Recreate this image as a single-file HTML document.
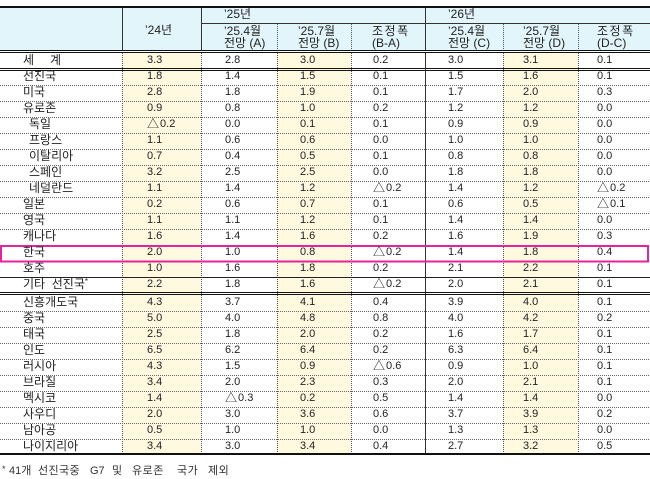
<!DOCTYPE html>
<html><head><meta charset="utf-8">
<style>
html,body{margin:0;padding:0;background:#fff;}
#c{position:relative;width:650px;height:479px;overflow:hidden;background:#fff;font-family:"Liberation Sans","Noto Sans CJK KR",sans-serif;color:#222;}
svg{position:absolute;left:0;top:0;}
.t{position:absolute;height:16px;line-height:16px;white-space:nowrap;font-size:12px;}
.r{position:absolute;left:0;width:650px;height:16px;line-height:16px;}
.r b,.r i{position:absolute;top:0;font-weight:normal;font-style:normal;white-space:nowrap;}
.r b{font-size:12px;left:23px;}
.r b.in{left:29px;}
.r i{font-size:11px;}
.r i:nth-child(2){left:147px}
.r i:nth-child(3){left:225px}
.r i:nth-child(4){left:300px}
.r i:nth-child(5){left:373px}
.r i:nth-child(6){left:448px}
.r i:nth-child(7){left:523px}
.r i:nth-child(8){left:597px}
s{text-decoration:none;font-family:"Noto Sans CJK KR",sans-serif;font-size:12px;margin-right:1px;display:inline-block;vertical-align:top;height:16px;line-height:16px;}
.f{position:absolute;top:463px;height:16px;line-height:16px;font-size:11px;white-space:nowrap;color:#333;}
</style></head><body>
<div id="c">
<svg width="650" height="479" viewBox="0 0 650 479">
  <rect x="0" y="8" width="650" height="42" fill="#e2f5fb"/>
  <rect x="122" y="53" width="79" height="400" fill="#fef9df"/>
  <rect x="277" y="53" width="74" height="400" fill="#fef9df"/>
  <rect x="503" y="53" width="75" height="400" fill="#fef9df"/>
  <rect x="0" y="6" width="650" height="2" fill="#111"/>
  <line x1="201" y1="23.5" x2="650" y2="23.5" stroke="#333" stroke-width="1"/>
  <g stroke="#333" stroke-width="1">
    <line x1="122.5" y1="8" x2="122.5" y2="50"/>
    <line x1="201.5" y1="8" x2="201.5" y2="50"/>
    <line x1="425.5" y1="8" x2="425.5" y2="50"/>
  </g>
  <g stroke="#555" stroke-width="1" stroke-dasharray="1 1">
    <line x1="277.5" y1="24" x2="277.5" y2="50"/>
    <line x1="351.5" y1="24" x2="351.5" y2="50"/>
    <line x1="503.5" y1="24" x2="503.5" y2="50"/>
    <line x1="578.5" y1="24" x2="578.5" y2="50"/>
  </g>
  <rect x="0" y="50" width="650" height="1" fill="#111"/>
  <rect x="0" y="52" width="650" height="1" fill="#111"/>
  <rect x="0" y="68" width="650" height="1" fill="#111"/>
  <rect x="0" y="70" width="650" height="1" fill="#111"/>
  <g stroke="#555" stroke-width="1" stroke-dasharray="1 1">
    <line x1="122.5" y1="53" x2="122.5" y2="453"/>
    <line x1="201.5" y1="53" x2="201.5" y2="453"/>
    <line x1="277.5" y1="53" x2="277.5" y2="453"/>
    <line x1="351.5" y1="53" x2="351.5" y2="453"/>
    <line x1="503.5" y1="53" x2="503.5" y2="453"/>
    <line x1="578.5" y1="53" x2="578.5" y2="453"/>
  </g>
  <line x1="425.5" y1="53" x2="425.5" y2="453" stroke="#333" stroke-width="1"/>
  <g stroke="#666" stroke-width="1" stroke-dasharray="1 1">
    <line x1="0" y1="85.5" x2="650" y2="85.5"/>
    <line x1="0" y1="101.5" x2="650" y2="101.5"/>
    <line x1="0" y1="117.5" x2="650" y2="117.5"/>
    <line x1="0" y1="133.5" x2="650" y2="133.5"/>
    <line x1="0" y1="149.5" x2="650" y2="149.5"/>
    <line x1="0" y1="165.5" x2="650" y2="165.5"/>
    <line x1="0" y1="181.5" x2="650" y2="181.5"/>
    <line x1="0" y1="197.5" x2="650" y2="197.5"/>
    <line x1="0" y1="213.5" x2="650" y2="213.5"/>
    <line x1="0" y1="229.5" x2="650" y2="229.5"/>
    <line x1="0" y1="245.5" x2="650" y2="245.5"/>
    <line x1="0" y1="261.5" x2="650" y2="261.5"/>
    <line x1="0" y1="311.5" x2="650" y2="311.5"/>
    <line x1="0" y1="327.5" x2="650" y2="327.5"/>
    <line x1="0" y1="343.5" x2="650" y2="343.5"/>
    <line x1="0" y1="359.5" x2="650" y2="359.5"/>
    <line x1="0" y1="375.5" x2="650" y2="375.5"/>
    <line x1="0" y1="391.5" x2="650" y2="391.5"/>
    <line x1="0" y1="407.5" x2="650" y2="407.5"/>
    <line x1="0" y1="423.5" x2="650" y2="423.5"/>
    <line x1="0" y1="439.5" x2="650" y2="439.5"/>
  </g>
  <line x1="0" y1="277.5" x2="650" y2="277.5" stroke="#222" stroke-width="1"/>
  <rect x="0" y="292" width="650" height="1" fill="#111"/>
  <rect x="0" y="294" width="650" height="1" fill="#111"/>
  <rect x="0" y="453" width="650" height="2" fill="#111"/>
  <rect x="1" y="246" width="647" height="15.5" fill="none" stroke="#e5239a" stroke-width="2"/>
</svg>

<div class="t" style="left:145px;top:22px;">’24년</div>
<div class="t" style="left:224px;top:6px;">’25년</div>
<div class="t" style="left:448px;top:6px;">’26년</div>

<div class="t" style="left:224px;top:23px;">’25.4월</div>
<div class="t" style="left:224px;top:35px;">전망 (A)</div>
<div class="t" style="left:298px;top:23px;">’25.7월</div>
<div class="t" style="left:298px;top:35px;">전망 (B)</div>
<div class="t" style="left:372px;top:23px;letter-spacing:1.5px;">조정폭</div>
<div class="t" style="left:372px;top:35px;">(B-A)</div>
<div class="t" style="left:448px;top:23px;">’25.4월</div>
<div class="t" style="left:448px;top:35px;">전망 (C)</div>
<div class="t" style="left:523px;top:23px;">’25.7월</div>
<div class="t" style="left:523px;top:35px;">전망 (D)</div>
<div class="t" style="left:597px;top:23px;letter-spacing:1.5px;">조정폭</div>
<div class="t" style="left:597px;top:35px;">(D-C)</div>

<div class="r" style="top:52px"><b>세</b><i>3.3</i><i>2.8</i><i>3.0</i><i>0.2</i><i>3.0</i><i>3.1</i><i>0.1</i></div>
<div class="t" style="left:50px;top:52px;">계</div>

<div class="r" style="top:68px"><b>선진국</b><i>1.8</i><i>1.4</i><i>1.5</i><i>0.1</i><i>1.5</i><i>1.6</i><i>0.1</i></div>
<div class="r" style="top:84px"><b>미국</b><i>2.8</i><i>1.8</i><i>1.9</i><i>0.1</i><i>1.7</i><i>2.0</i><i>0.3</i></div>
<div class="r" style="top:100px"><b>유로존</b><i>0.9</i><i>0.8</i><i>1.0</i><i>0.2</i><i>1.2</i><i>1.2</i><i>0.0</i></div>
<div class="r" style="top:116px"><b class="in">독일</b><i><s>△</s>0.2</i><i>0.0</i><i>0.1</i><i>0.1</i><i>0.9</i><i>0.9</i><i>0.0</i></div>
<div class="r" style="top:132px"><b class="in">프랑스</b><i>1.1</i><i>0.6</i><i>0.6</i><i>0.0</i><i>1.0</i><i>1.0</i><i>0.0</i></div>
<div class="r" style="top:148px"><b class="in">이탈리아</b><i>0.7</i><i>0.4</i><i>0.5</i><i>0.1</i><i>0.8</i><i>0.8</i><i>0.0</i></div>
<div class="r" style="top:164px"><b class="in">스페인</b><i>3.2</i><i>2.5</i><i>2.5</i><i>0.0</i><i>1.8</i><i>1.8</i><i>0.0</i></div>
<div class="r" style="top:180px"><b class="in">네덜란드</b><i>1.1</i><i>1.4</i><i>1.2</i><i><s>△</s>0.2</i><i>1.4</i><i>1.2</i><i><s>△</s>0.2</i></div>
<div class="r" style="top:196px"><b>일본</b><i>0.2</i><i>0.6</i><i>0.7</i><i>0.1</i><i>0.6</i><i>0.5</i><i><s>△</s>0.1</i></div>
<div class="r" style="top:212px"><b>영국</b><i>1.1</i><i>1.1</i><i>1.2</i><i>0.1</i><i>1.4</i><i>1.4</i><i>0.0</i></div>
<div class="r" style="top:228px"><b>캐나다</b><i>1.6</i><i>1.4</i><i>1.6</i><i>0.2</i><i>1.6</i><i>1.9</i><i>0.3</i></div>
<div class="r" style="top:244px"><b>한국</b><i>2.0</i><i>1.0</i><i>0.8</i><i><s>△</s>0.2</i><i>1.4</i><i>1.8</i><i>0.4</i></div>
<div class="r" style="top:260px"><b>호주</b><i>1.0</i><i>1.6</i><i>1.8</i><i>0.2</i><i>2.1</i><i>2.2</i><i>0.1</i></div>
<div class="r" style="top:276px"><b>기타&nbsp;&nbsp;선진국<span style="font-size:8px;position:relative;top:-4px;">*</span></b><i>2.2</i><i>1.8</i><i>1.6</i><i><s>△</s>0.2</i><i>2.0</i><i>2.1</i><i>0.1</i></div>
<div class="r" style="top:294px"><b>신흥개도국</b><i>4.3</i><i>3.7</i><i>4.1</i><i>0.4</i><i>3.9</i><i>4.0</i><i>0.1</i></div>
<div class="r" style="top:310px"><b>중국</b><i>5.0</i><i>4.0</i><i>4.8</i><i>0.8</i><i>4.0</i><i>4.2</i><i>0.2</i></div>
<div class="r" style="top:326px"><b>태국</b><i>2.5</i><i>1.8</i><i>2.0</i><i>0.2</i><i>1.6</i><i>1.7</i><i>0.1</i></div>
<div class="r" style="top:342px"><b>인도</b><i>6.5</i><i>6.2</i><i>6.4</i><i>0.2</i><i>6.3</i><i>6.4</i><i>0.1</i></div>
<div class="r" style="top:358px"><b>러시아</b><i>4.3</i><i>1.5</i><i>0.9</i><i><s>△</s>0.6</i><i>0.9</i><i>1.0</i><i>0.1</i></div>
<div class="r" style="top:374px"><b>브라질</b><i>3.4</i><i>2.0</i><i>2.3</i><i>0.3</i><i>2.0</i><i>2.1</i><i>0.1</i></div>
<div class="r" style="top:390px"><b>멕시코</b><i>1.4</i><i><s>△</s>0.3</i><i>0.2</i><i>0.5</i><i>1.4</i><i>1.4</i><i>0.0</i></div>
<div class="r" style="top:406px"><b>사우디</b><i>2.0</i><i>3.0</i><i>3.6</i><i>0.6</i><i>3.7</i><i>3.9</i><i>0.2</i></div>
<div class="r" style="top:422px"><b>남아공</b><i>0.5</i><i>1.0</i><i>1.0</i><i>0.0</i><i>1.3</i><i>1.3</i><i>0.0</i></div>
<div class="r" style="top:438px"><b>나이지리아</b><i>3.4</i><i>3.0</i><i>3.4</i><i>0.4</i><i>2.7</i><i>3.2</i><i>0.5</i></div>

<div class="f" style="left:2px;font-size:9px;top:461px;">*</div>
<div class="f" style="left:9px;">41개</div>
<div class="f" style="left:38px;letter-spacing:0.4px;">선진국중</div>
<div class="f" style="left:90px;">G7</div>
<div class="f" style="left:112px;">및</div>
<div class="f" style="left:132px;letter-spacing:0.5px;">유로존</div>
<div class="f" style="left:177px;letter-spacing:0.5px;">국가</div>
<div class="f" style="left:208px;letter-spacing:0.5px;">제외</div>
</div>
</body></html>
